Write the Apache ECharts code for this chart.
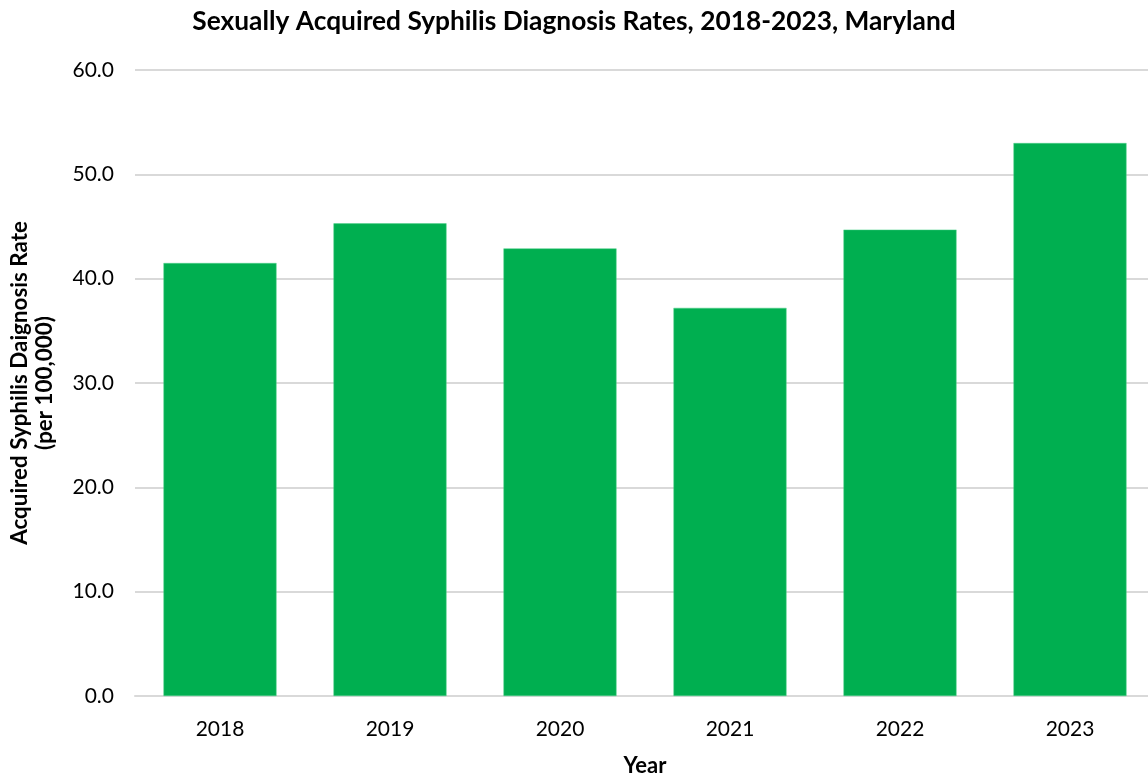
<!DOCTYPE html>
<html>
<head>
<meta charset="utf-8">
<script src="https://cdn.jsdelivr.net/npm/echarts@6/dist/echarts.min.js"></script>
<style>
  html, body { margin: 0; padding: 0; background: #fff; }
  #chart { width: 1148px; height: 779px; }
</style>
</head>
<body>
<div id="chart"></div>
<script>
// data
const years = ['2018', '2019', '2020', '2021', '2022', '2023']
const rates = [41.5, 45.3, 42.9, 37.2, 44.7, 53.0]

const fontFamily = 'Lato, "Open Sans", sans-serif'

const chart = echarts.init(document.getElementById('chart'))

const option = {
  animation: false,
  title: {
    text: 'Sexually Acquired Syphilis Diagnosis Rates, 2018-2023, Maryland',
    left: 'center',
    top: 4,
    textStyle: {
      fontFamily: fontFamily,
      fontSize: 26.3,
      fontWeight: 'bold',
      color: '#000'
    }
  },
  grid: {
    left: 135,
    top: 70,
    width: 1020,
    height: 626,
    outerBoundsMode: 'none'
  },
  xAxis: {
    type: 'category',
    data: years,
    name: 'Year',
    nameLocation: 'middle',
    nameGap: 59,
    nameTextStyle: {
      fontFamily: fontFamily,
      fontSize: 22,
      fontWeight: 'bold',
      color: '#000'
    },
    axisLine: {
      lineStyle: { color: '#d9d9d9', width: 2 }
    },
    axisTick: { show: false },
    axisLabel: {
      fontFamily: fontFamily,
      fontSize: 21,
      color: '#000',
      margin: 23
    }
  },
  yAxis: {
    type: 'value',
    min: 0,
    max: 60,
    interval: 10,
    name: 'Acquired Syphilis Daignosis Rate\n(per 100,000)',
    nameLocation: 'middle',
    nameGap: 78,
    nameTextStyle: {
      fontFamily: fontFamily,
      fontSize: 22.4,
      fontWeight: 'bold',
      color: '#000',
      lineHeight: 25
    },
    axisLine: { show: false },
    axisTick: { show: false },
    axisLabel: {
      fontFamily: fontFamily,
      fontSize: 21,
      color: '#000',
      margin: 21,
      formatter: (v) => v.toFixed(1)
    },
    splitLine: {
      lineStyle: { color: '#d9d9d9', width: 2 }
    }
  },
  series: [
    {
      type: 'bar',
      data: rates,
      barWidth: '66.5%',
      itemStyle: {
        color: '#00af50',
        borderColor: '#4fd08a',
        borderWidth: 0.5
      }
    }
  ]
}

chart.setOption(option)
</script>
</body>
</html>
